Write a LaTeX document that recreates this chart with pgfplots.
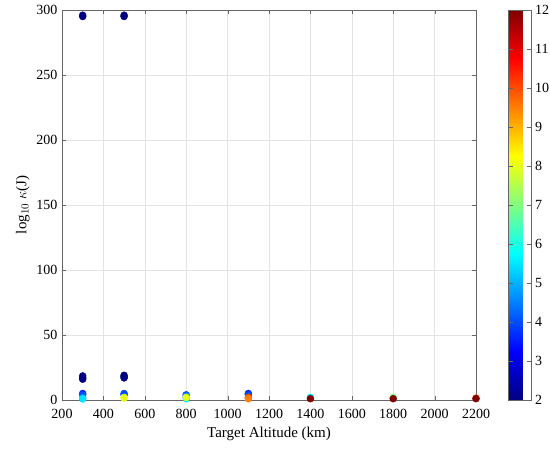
\documentclass[border=0pt]{standalone}
\usepackage{fontspec}
\setmainfont{Liberation Serif}
\usepackage{pgfplots}
\pgfplotsset{compat=1.18}
\begin{document}
\begin{tikzpicture}
\begin{axis}[
  name=ax,
  scale only axis,
  width=414pt, height=390pt,
  xmin=200, xmax=2200, ymin=0, ymax=300,
  xtick={200,400,...,2200},
  ytick={0,50,...,300},
  /pgf/number format/assume math mode=true,
  /pgf/number format/1000 sep={},
  tick label style={font=\fontsize{14}{16}\selectfont},
  x tick label style={yshift=-6pt},
  yticklabel shift=1pt,
  label style={font=\fontsize{15}{17}\selectfont},
  xlabel style={yshift=-1pt},
  xlabel={Target Altitude (km)},
  ylabel={log$_{10}$ $\kappa$(J)},
  grid=major,
  major grid style={draw=gray!22},
  axis line style={draw=black!60},
  tick style={draw=black!60},
  tick align=inside,
  xtick pos=both, ytick pos=both,
  colormap/jet,
  point meta min=2, point meta max=12,
  colorbar,
  colorbar style={
    at={(parent axis.north east)}, anchor=north west,
    xshift=24pt,
    width=23pt,
    ytick={2,3,...,12},
    tick label style={font=\fontsize{14}{16}\selectfont},
    tick align=inside,
    axis line style={draw=black!60},
    tick style={draw=black!60},
    /pgf/number format/assume math mode=true,
  },
]
\addplot[scatter, only marks, mark=*, mark size=3.5pt, point meta=explicit,
  scatter/use mapped color={draw=mapped color, fill=mapped color}]
  table[meta=c] {
x y c
300 296 2
300 295 2
300 18.5 2
300 17 2
300 16 2
500 296 2
500 295 2
500 19 2
500 18 2
500 17 2
300 5 3.5
300 4 4
300 1.5 5
300 0.8 5.5
500 5 4
500 4 4
500 2 8
500 1.5 8
800 4 4
800 3 4.5
800 1 5.5
800 2 8
1100 5 3.5
1100 4 4
1100 2 10
1100 1 9.5
1400 2 5.5
1400 1 12
1800 2 7
1800 1 12
2200 1.5 10
2200 1 12
};
\end{axis}
\pgfresetboundingbox
\path ([xshift=-62pt,yshift=-52pt]ax.south west) rectangle ([xshift=74pt,yshift=10pt]ax.north east);
\end{tikzpicture}
\end{document}
